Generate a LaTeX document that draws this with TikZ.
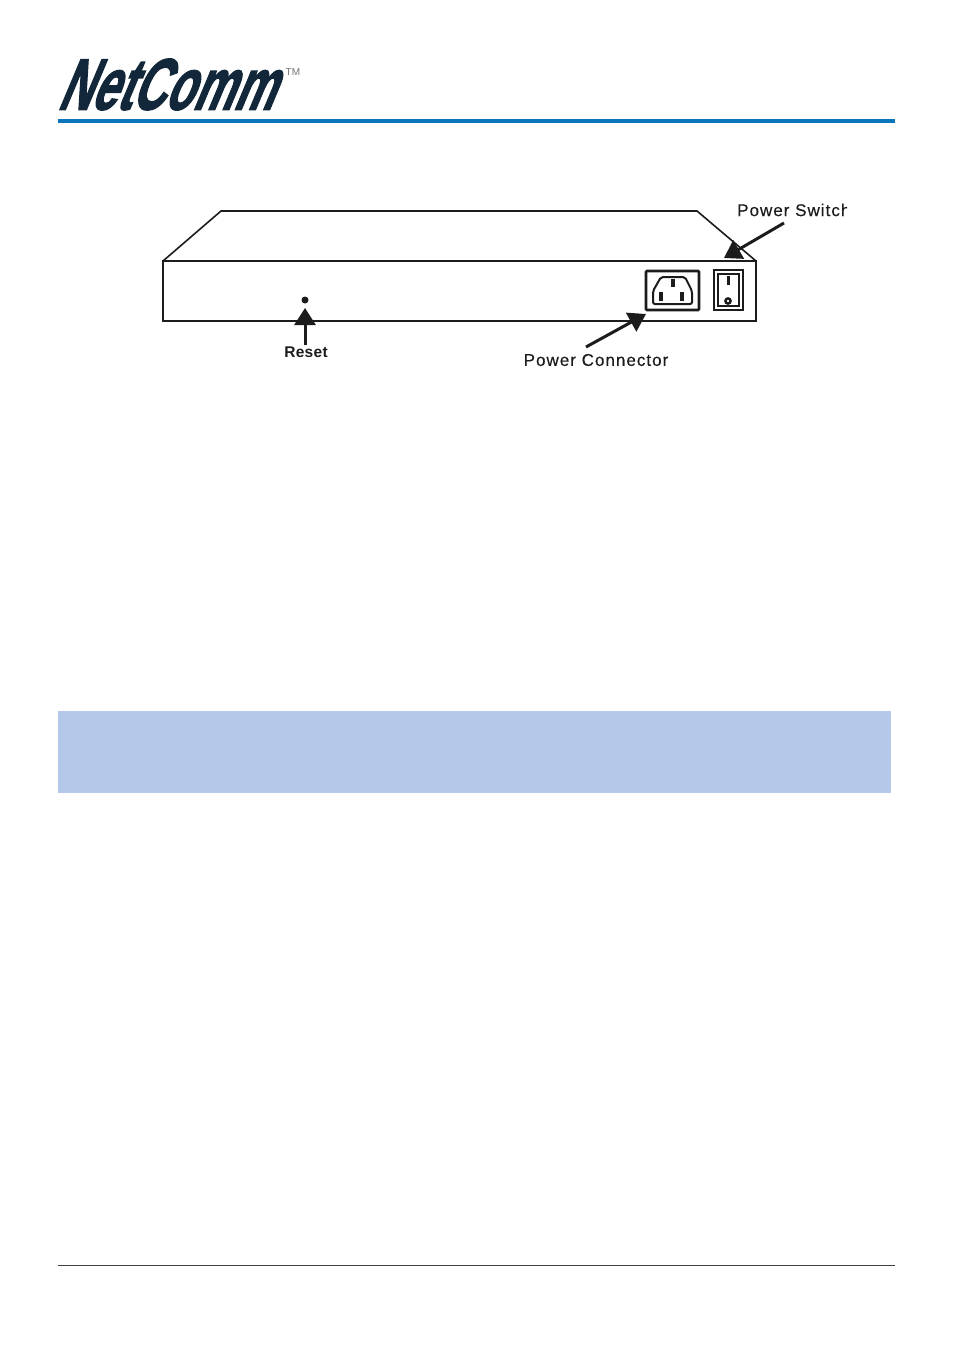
\documentclass[tikz,border=0pt]{standalone}
\usepackage{fontspec}
\usetikzlibrary{arrows.meta}
\setmainfont{Liberation Sans}
\newfontfamily\labelfont[LetterSpace=6,FakeBold=0.3]{Liberation Sans}
\newfontfamily\resetfont[LetterSpace=2]{Liberation Sans Bold}
\newfontfamily\logofont[FakeBold=2.2]{Liberation Sans Bold}
\definecolor{logoink}{HTML}{12283A}
\definecolor{rulecolor}{HTML}{0A75BD}
\definecolor{bandcolor}{HTML}{B4C9E9}
\definecolor{inkcolor}{HTML}{1C1C1C}
\tikzset{
	pointer/.style={line width=3pt,inkcolor,-{Triangle[length=17pt,width=21pt]}},
	devicelabel/.style={inner sep=0pt,text=inkcolor,font=\labelfont\fontsize{17}{17}\selectfont},
}
\begin{document}
\begin{tikzpicture}[x=1pt,y=-1pt]
		\useasboundingbox (0,0) rectangle (954,1352);
		\def\frontpanel{(163,261) rectangle (756,321)}
		\def\toppanel{(163,261) -- (221,211) -- (697,211) -- (756,261)}
		\def\socket{(653,291) -- (661,277) -- (685,277) -- (692,291) -- (692,304) -- (653,304) -- cycle}
		% page furniture
		\fill[white] (0,0) rectangle (954,1352);
		\fill[rulecolor] (58,119) rectangle (895,123);
		\fill[bandcolor] (58,711) rectangle (891,793);
		\draw[line width=0.8pt,black!75] (58,1265.5) -- (895,1265.5);
		% logo
		\node[anchor=west,inner sep=0pt,text=logoink,xslant=0.42,xscale=0.915,yscale=1.45,transform shape,font=\logofont\fontsize{50}{50}\selectfont] (logoword) at (67,84.5) {NetComm};
		\node[anchor=west,inner sep=0pt,text=black!55,font=\fontsize{10}{10}\selectfont] (logotm) at (285.5,72.5) {TM};
		% device
		\draw[line width=1.6pt,inkcolor] \toppanel;
		\draw[line width=2.8pt,inkcolor] \frontpanel;
		\draw[line width=2.6pt,inkcolor,rounded corners=1pt] (646,271) rectangle (699,310);
		\draw[line width=2pt,inkcolor,rounded corners=2pt] \socket;
		\fill[inkcolor] (671,279) rectangle (675,287);
		\fill[inkcolor] (659,292) rectangle (663,301);
		\fill[inkcolor] (680,292) rectangle (684,301);
		\draw[line width=2.6pt,inkcolor] (714,270) rectangle (743,310);
		\draw[line width=1.2pt,inkcolor] (718,274) rectangle (739,306);
		\fill[inkcolor] (726.5,276) rectangle (729.5,285);
		\draw[line width=2.4pt,inkcolor] (728,301) circle (2.6);
		\node[circle,fill=inkcolor,inner sep=0pt,minimum size=7pt] (resethole) at (305,300) {};
		% labels
		\node[inner sep=0pt,text=inkcolor,font=\resetfont\fontsize{15.5}{16}\selectfont] (resetlabel) at (306,352) {Reset};
		\node[devicelabel] (connectorlabel) at (596,360) {Power Connector};
		\begin{scope}
			\clip (730,195) rectangle (847,225);
			\node[devicelabel,anchor=west] (switchlabel) at (737,210) {Power Switch};
		\end{scope}
		% arrows
		\coordinate (connectortail) at (586,347);
		\coordinate (connectortip) at (646,314);
		\coordinate (switchtail) at (784,223);
		\coordinate (switchtip) at (724,258);
		\coordinate (resettail) at (305,345);
		\coordinate (resettip) at (305,308);
		\draw[pointer] (resettail) -- (resettip);
		\draw[pointer] (connectortail) -- (connectortip);
		\draw[pointer] (switchtail) -- (switchtip);
	\end{tikzpicture}
\end{document}
